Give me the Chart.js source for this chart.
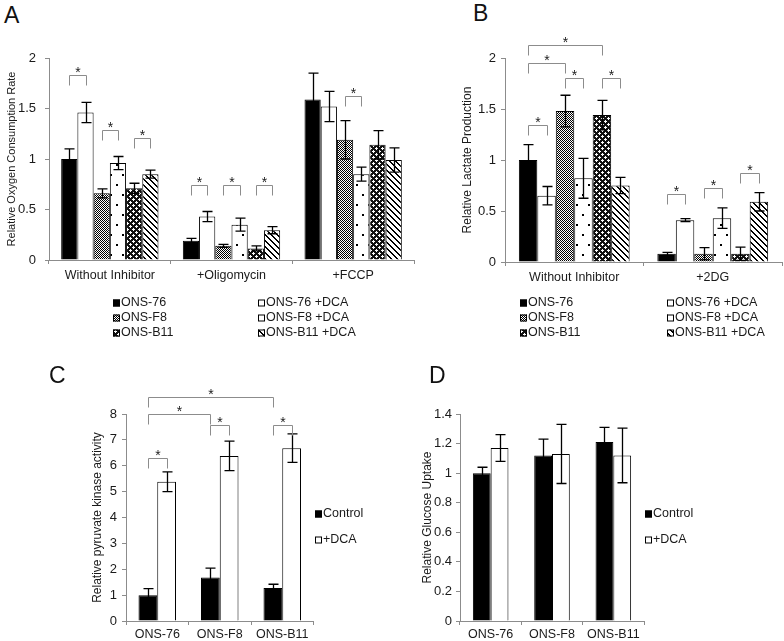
<!DOCTYPE html>
<html>
<head>
<meta charset="utf-8">
<script src="https://cdn.jsdelivr.net/npm/chart.js@4.4.1/dist/chart.umd.min.js"></script>
<style>
  body { margin: 0; background: #fff; }
  #page { position: relative; width: 784px; height: 641px; overflow: hidden; font-family: "Liberation Sans", Arial, sans-serif; }
  #page canvas { position: absolute; }
  .tag { position: absolute; font-size: 23px; line-height: 1; color: #111; }
</style>
</head>
<body>
<div id="page">
  <canvas id="chartA" width="430" height="320" style="left:0;top:30px"></canvas>
  <canvas id="chartB" width="384" height="320" style="left:400px;top:30px"></canvas>
  <canvas id="chartC" width="400" height="296" style="left:0;top:345px"></canvas>
  <canvas id="chartD" width="384" height="296" style="left:400px;top:345px"></canvas>
  <div class="tag" style="left:4px;top:4px">A</div>
  <div class="tag" style="left:473px;top:2px">B</div>
  <div class="tag" style="left:49px;top:364px">C</div>
  <div class="tag" style="left:429px;top:364px">D</div>
</div>
<script>
// categories
const groupsA = ['Without Inhibitor', '+Oligomycin', '+FCCP'];
const groupsB = ['Without Inhibitor', '+2DG'];
const cellLines = ['ONS-76', 'ONS-F8', 'ONS-B11'];
const seriesNames = ['ONS-76', 'ONS-76 +DCA', 'ONS-F8', 'ONS-F8 +DCA', 'ONS-B11', 'ONS-B11 +DCA'];
const treatNames = ['Control', '+DCA'];

// A - relative oxygen consumption rate (mean, error)
const ocr76 = [1.0, 0.19, 1.59];
const ocr76Err = [0.1, 0.025, 0.26];
const ocr76Dca = [1.46, 0.43, 1.52];
const ocr76DcaErr = [0.1, 0.05, 0.15];
const ocrF8 = [0.66, 0.14, 1.19];
const ocrF8Err = [0.045, 0.015, 0.19];
const ocrF8Dca = [0.96, 0.35, 0.85];
const ocrF8DcaErr = [0.065, 0.065, 0.07];
const ocrB11 = [0.71, 0.115, 1.14];
const ocrB11Err = [0.05, 0.025, 0.14];
const ocrB11Dca = [0.85, 0.295, 0.99];
const ocrB11DcaErr = [0.04, 0.035, 0.12];

// B - relative lactate production
const lac76 = [1.0, 0.08];
const lac76Err = [0.15, 0.015];
const lac76Dca = [0.65, 0.41];
const lac76DcaErr = [0.09, 0.015];
const lacF8 = [1.48, 0.08];
const lacF8Err = [0.155, 0.06];
const lacF8Dca = [0.82, 0.43];
const lacF8DcaErr = [0.195, 0.1];
const lacB11 = [1.44, 0.08];
const lacB11Err = [0.145, 0.065];
const lacB11Dca = [0.75, 0.59];
const lacB11DcaErr = [0.08, 0.09];

// C - relative pyruvate kinase activity
const pkControl = [1.0, 1.68, 1.28];
const pkControlErr = [0.25, 0.36, 0.14];
const pkDca = [5.38, 6.38, 6.68];
const pkDcaErr = [0.38, 0.57, 0.55];

// D - relative glucose uptake
const glcControl = [1.0, 1.12, 1.21];
const glcControlErr = [0.04, 0.11, 0.1];
const glcDca = [1.17, 1.13, 1.12];
const glcDcaErr = [0.09, 0.2, 0.185];

// significance brackets: [dataset1, index1, dataset2, index2, level]
const sigA = [[0, 0, 1, 0, 1.83], [2, 0, 3, 0, 1.29], [4, 0, 5, 0, 1.21],
              [0, 1, 1, 1, 0.74], [2, 1, 3, 1, 0.74], [4, 1, 5, 1, 0.74],
              [2, 2, 3, 2, 1.62]];
const sigB = [[0, 0, 1, 0, 1.34], [2, 0, 3, 0, 1.80], [4, 0, 5, 0, 1.80],
              [0, 0, 2, 0, 1.95], [0, 0, 4, 0, 2.13],
              [0, 1, 1, 1, 0.67], [2, 1, 3, 1, 0.73], [4, 1, 5, 1, 0.87]];
const sigC = [[0, 0, 1, 0, 6.29], [0, 1, 1, 1, 7.56], [0, 2, 1, 2, 7.56],
              [0, 0, 0, 1, 8.0], [0, 0, 0, 2, 8.67]];

const FONT = '"Liberation Sans", Arial, sans-serif';
Chart.defaults.font.family = FONT;
Chart.defaults.color = '#1a1a1a';

function makePattern(w, h, draw) {
  const c = document.createElement('canvas');
  c.width = w; c.height = h;
  const g = c.getContext('2d');
  draw(g);
  return g.createPattern(c, 'repeat');
}
const fillBlack = '#000';
const fillWhite = '#fff';
const fillChecker = makePattern(4, 4, g => {
  g.fillStyle = '#fff'; g.fillRect(0, 0, 4, 4);
  g.fillStyle = '#000';
  for (let y = 0; y < 4; y++) for (let x = 0; x < 4; x++) if ((x + y) % 2 === 0) g.fillRect(x, y, 1, 1);
});
const fillDots = makePattern(12, 20, g => {
  g.fillStyle = '#fff'; g.fillRect(0, 0, 12, 20);
  g.fillStyle = '#000';
  g.fillRect(2, 4, 2, 2);
  g.fillRect(8, 14, 2, 2);
});
const fillDark = makePattern(6, 6, g => {
  g.fillStyle = '#111'; g.fillRect(0, 0, 6, 6);
  g.fillStyle = '#fff';
  [[1, 0], [0, 1], [1, 1], [2, 1], [1, 2], [4, 3], [3, 4], [4, 4], [5, 4], [4, 5]].forEach(p => g.fillRect(p[0], p[1], 1, 1));
});
const fillDiag = makePattern(6, 6, g => {
  g.fillStyle = '#fff'; g.fillRect(0, 0, 6, 6);
  g.fillStyle = '#000';
  for (let y = 0; y < 6; y++) for (let x = 0; x < 6; x++) {
    const k = ((x - y) % 6 + 6) % 6;
    if (k === 0 || k === 1) g.fillRect(x, y, 1, 1);
  }
});
const sixFills = [fillBlack, fillWhite, fillChecker, fillDots, fillDark, fillDiag];

function barSet(label, values, errors, fill) {
  return { label, data: values, errors, backgroundColor: fill, borderColor: '#000', borderWidth: 1 };
}

const errorBars = {
  id: 'errorBars',
  afterDatasetsDraw(chart) {
    const ctx = chart.ctx, y = chart.scales.y;
    ctx.save();
    ctx.strokeStyle = '#000';
    ctx.lineWidth = 1.3;
    chart.data.datasets.forEach((ds, d) => {
      chart.getDatasetMeta(d).data.forEach((bar, i) => {
        const top = y.getPixelForValue(ds.data[i] + ds.errors[i]);
        const bot = y.getPixelForValue(ds.data[i] - ds.errors[i]);
        const x = Math.round(bar.x) + 0.5;
        ctx.beginPath();
        ctx.moveTo(x, top); ctx.lineTo(x, bot);
        ctx.moveTo(x - 5, top); ctx.lineTo(x + 5, top);
        ctx.moveTo(x - 5, bot); ctx.lineTo(x + 5, bot);
        ctx.stroke();
      });
    });
    ctx.restore();
  }
};

function brackets(items) {
  return {
    id: 'brackets',
    afterDraw(chart) {
      const ctx = chart.ctx, y = chart.scales.y;
      ctx.save();
      items.forEach(([d1, i1, d2, i2, level]) => {
        const x1 = Math.round(chart.getDatasetMeta(d1).data[i1].x) + 0.5;
        const x2 = Math.round(chart.getDatasetMeta(d2).data[i2].x) + 0.5;
        const yy = Math.round(y.getPixelForValue(level)) + 0.5;
        ctx.strokeStyle = '#8c8c8c';
        ctx.lineWidth = 1;
        ctx.beginPath();
        ctx.moveTo(x1, yy + 10); ctx.lineTo(x1, yy); ctx.lineTo(x2, yy); ctx.lineTo(x2, yy + 10);
        ctx.stroke();
        ctx.fillStyle = '#1a1a1a';
        ctx.font = '14px ' + FONT;
        ctx.textAlign = 'center';
        ctx.textBaseline = 'alphabetic';
        ctx.fillText('*', (x1 + x2) / 2, yy + 1.5);
      });
      ctx.restore();
    }
  };
}

// legend entries: [datasetIndex, x, y]
function boxLegend(entries) {
  return {
    id: 'boxLegend',
    afterDraw(chart) {
      const ctx = chart.ctx;
      ctx.save();
      ctx.font = '12.5px ' + FONT;
      ctx.textAlign = 'left';
      ctx.textBaseline = 'middle';
      entries.forEach(([d, x, y]) => {
        const ds = chart.data.datasets[d];
        ctx.fillStyle = ds.backgroundColor;
        ctx.fillRect(x, y - 3.5, 7, 7);
        ctx.strokeStyle = '#000';
        ctx.lineWidth = 1;
        ctx.strokeRect(x + 0.5, y - 3, 6, 6);
        ctx.fillStyle = '#1a1a1a';
        ctx.fillText(ds.label, x + 8, y);
      });
      ctx.restore();
    }
  };
}

function yAxis(max, step, title, titleSize, tickPad, width, titlePad) {
  return {
    min: 0, max,
    ticks: { stepSize: step, font: { size: 13 }, padding: tickPad, callback: v => String(Number(v.toFixed(2))) },
    grid: { display: true, drawOnChartArea: false, drawTicks: true, tickLength: 4, color: '#8c8c8c' },
    border: { display: true, color: '#8c8c8c' },
    title: { display: true, text: title, font: { size: titleSize }, padding: { top: titlePad, bottom: 0 } },
    afterFit: s => { s.width = width; }
  };
}
function xAxis(height, pad) {
  return {
    ticks: { font: { size: 12.5 }, padding: pad, maxRotation: 0, autoSkip: false },
    grid: { display: true, drawOnChartArea: false, drawTicks: true, tickLength: 4, color: '#8c8c8c', offset: true },
    border: { display: true, color: '#8c8c8c' },
    afterFit: s => { s.height = height; }
  };
}
function baseOptions(padding, catPct, x, y) {
  return {
    responsive: false,
    animation: false,
    layout: { padding },
    datasets: { bar: { categoryPercentage: catPct, barPercentage: 1 } },
    plugins: { legend: { display: false }, tooltip: { enabled: false } },
    scales: { x, y }
  };
}

new Chart(document.getElementById('chartA'), {
  type: 'bar',
  data: {
    labels: groupsA,
    datasets: [
      barSet(seriesNames[0], ocr76, ocr76Err, sixFills[0]),
      barSet(seriesNames[1], ocr76Dca, ocr76DcaErr, sixFills[1]),
      barSet(seriesNames[2], ocrF8, ocrF8Err, sixFills[2]),
      barSet(seriesNames[3], ocrF8Dca, ocrF8DcaErr, sixFills[3]),
      barSet(seriesNames[4], ocrB11, ocrB11Err, sixFills[4]),
      barSet(seriesNames[5], ocrB11Dca, ocrB11DcaErr, sixFills[5])
    ]
  },
  options: baseOptions({ left: 0, right: 16, top: 28, bottom: 60 }, 0.8,
    xAxis(30, 4), yAxis(2, 0.5, 'Relative Oxygen Consumption Rate', 11, 9, 49, 5)),
  plugins: [errorBars, brackets(sigA),
    boxLegend([[0, 113, 273], [2, 113, 288], [4, 113, 303], [1, 258, 273], [3, 258, 288], [5, 258, 303]])]
});

new Chart(document.getElementById('chartB'), {
  type: 'bar',
  data: {
    labels: groupsB,
    datasets: [
      barSet(seriesNames[0], lac76, lac76Err, sixFills[0]),
      barSet(seriesNames[1], lac76Dca, lac76DcaErr, sixFills[1]),
      barSet(seriesNames[2], lacF8, lacF8Err, sixFills[2]),
      barSet(seriesNames[3], lacF8Dca, lacF8DcaErr, sixFills[3]),
      barSet(seriesNames[4], lacB11, lacB11Err, sixFills[4]),
      barSet(seriesNames[5], lacB11Dca, lacB11DcaErr, sixFills[5])
    ]
  },
  options: baseOptions({ left: 56, right: 2, top: 28, bottom: 58 }, 0.8,
    xAxis(30, 4), yAxis(2, 0.5, 'Relative Lactate Production', 12, 5, 49, 4)),
  plugins: [errorBars, brackets(sigB),
    boxLegend([[0, 120, 273], [2, 120, 288], [4, 120, 303], [1, 267, 273], [3, 267, 288], [5, 267, 303]])]
});

new Chart(document.getElementById('chartC'), {
  type: 'bar',
  data: {
    labels: cellLines,
    datasets: [
      barSet(treatNames[0], pkControl, pkControlErr, fillBlack),
      barSet(treatNames[1], pkDca, pkDcaErr, fillWhite)
    ]
  },
  options: baseOptions({ left: 86, right: 86.5, top: 69, bottom: 0 }, 0.6,
    xAxis(20, 2), yAxis(8, 1, 'Relative pyruvate kinase activity', 12, 5, 40, 4)),
  plugins: [errorBars, brackets(sigC), boxLegend([[0, 315, 169], [1, 315, 195]])]
});

new Chart(document.getElementById('chartD'), {
  type: 'bar',
  data: {
    labels: cellLines,
    datasets: [
      barSet(treatNames[0], glcControl, glcControlErr, fillBlack),
      barSet(treatNames[1], glcDca, glcDcaErr, fillWhite)
    ]
  },
  options: baseOptions({ left: 16, right: 140, top: 69, bottom: 0 }, 0.58,
    xAxis(20, 2), yAxis(1.4, 0.2, 'Relative Glucose Uptake', 12, 4, 44, 4)),
  plugins: [errorBars, boxLegend([[0, 245, 169], [1, 245, 195]])]
});
</script>
</body>
</html>
